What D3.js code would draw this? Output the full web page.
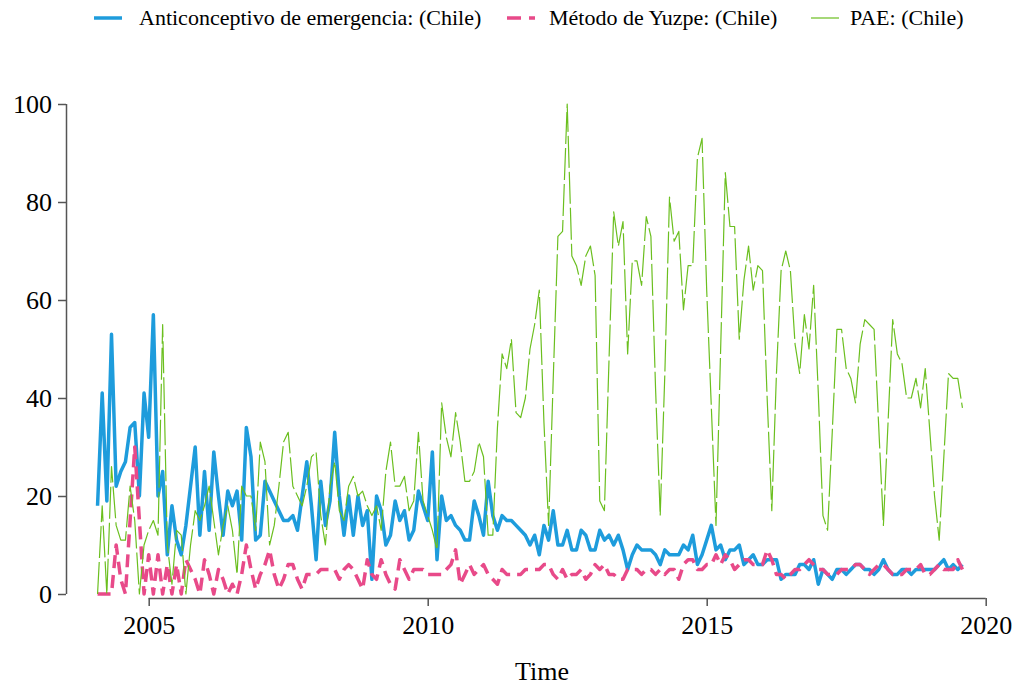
<!DOCTYPE html>
<html><head><meta charset="utf-8">
<script src="https://cdn.jsdelivr.net/npm/d3@7"></script>
<style>body{margin:0;background:#fff}svg{display:block}text{font-family:"Liberation Serif","Times New Roman",serif;fill:#000}</style>
</head><body><svg id="c" width="1018" height="685"></svg>
<script>
// Monthly series, first month = Feb 2004
const startYear = 2004, startMonth = 2;
const seriesNames = ["Anticonceptivo de emergencia: (Chile)", "Método de Yuzpe: (Chile)", "PAE: (Chile)"];
const anticonceptivo = [18,41,19,53,22,25,27,34,35,20,41,32,57,20,25,8,18,11,8,14,22,30,12,25,13,29,20,12,21,18,
21,11,34,28,11,12,23,21,19,17,15,15,16,13,20,27,18,7,23,14,19,33,20,12,20,12,20,14,17,3,
20,17,10,12,19,15,17,11,13,21,18,15,29,7,20,15,16,14,13,11,11,19,16,12,23,16,13,16,15,15,14,13,12,
10,12,8,14,11,17,10,10,13,9,9,13,12,9,9,13,11,12,10,12,9,5,8,10,9,9,9,8,6,9,8,
8,8,10,9,12,6,8,11,14,9,10,7,9,9,10,6,7,8,6,6,7,7,7,3,4,4,4,6,6,5,7,
2,5,4,3,5,5,4,5,6,6,5,5,4,5,7,5,4,4,5,5,4,5,5,5,5,5,6,7,5,6,5,6];
const yuzpe = [0,0,0,0,10,3,0,15,30,15,0,8,0,8,0,6,0,6,0,7,5,3,0,7,4,0,5,3,0,2,
0,4,10,5,1,4,6,9,4,1,3,6,6,3,1,4,4,4,5,5,5,5,3,5,6,5,3,1,7,4,
3,7,4,2,1,7,5,3,5,5,5,4,4,4,4,5,6,9,2,4,6,4,5,6,4,3,2,5,4,4,4,4,5,
5,5,5,6,6,4,3,5,3,4,4,5,3,4,6,5,6,4,4,3,3,5,5,5,4,5,5,4,5,4,5,
5,3,6,7,7,5,5,6,6,8,6,8,7,5,6,7,7,6,6,6,9,7,4,4,3,4,5,5,6,7,6,
5,5,4,4,4,5,5,5,6,6,5,4,5,6,6,5,4,4,4,5,5,5,6,4,4,5,6,5,5,5,7,5];
const pae = [0,18,0,26,14,11,11,22,15,0,10,13,15,12,55,10,2,13,12,0,10,17,15,18,22,15,8,14,18,13,
4,22,20,20,13,31,27,10,14,22,31,33,22,20,18,22,28,29,16,10,22,27,17,15,22,24,20,21,18,16,
18,13,25,31,22,22,24,17,19,33,19,16,13,9,39,32,28,37,31,23,23,25,31,28,12,12,34,49,46,52,37,36,40,
50,55,62,35,14,44,73,74,100,69,67,63,69,71,65,19,17,48,78,71,76,49,68,68,63,77,73,42,16,45,81,
72,74,58,67,67,89,93,62,38,14,50,86,75,75,52,64,71,62,67,66,40,17,45,66,70,66,51,45,57,50,63,
41,16,13,33,54,54,46,44,39,51,56,55,54,34,14,35,56,49,47,40,40,44,38,46,33,20,11,28,45,44,44,38];
const xTicks = [2005, 2010, 2015, 2020];
const yTicks = [0, 20, 40, 60, 80, 100];
const colors = ["#1E9CDC", "#E84A89", "#6BBF1F"];

const svg = d3.select("#c");
const x = d3.scaleLinear().domain([2004, 2020]).range([92.9, 985.7]);
const y = d3.scaleLinear().domain([0, 100]).range([594, 104]);
const t = i => startYear + (startMonth - 1 + i) / 12;

const axisCol = "#555";
// x axis
const gx = svg.append("g").attr("transform", "translate(0,598)")
  .call(d3.axisBottom(x).tickValues(xTicks).tickFormat(d3.format("d")).tickSize(8).tickPadding(10));
gx.select(".domain").attr("d", `M${x(2005)},0.5V0.5H${x(2020)}`);
// y axis
const gy = svg.append("g").attr("transform", "translate(66,0)")
  .call(d3.axisLeft(y).tickValues(yTicks).tickSize(8).tickPadding(6));
gy.select(".domain").attr("d", `M0.5,${y(0)}H0.5V${y(100)}`);
svg.selectAll(".domain, .tick line").attr("stroke", axisCol).attr("stroke-width", 1.5);
svg.selectAll(".tick text").style("font-size", "26px").style("font-family", '"Liberation Serif",serif').attr("fill", "#000");

svg.append("text").attr("x", 542).attr("y", 680).attr("text-anchor", "middle").style("font-size", "26px").text("Time");

const line = d3.line().x((d, i) => x(t(i))).y(d => y(d));
const styles = [
  {w: 3.5, dash: null},
  {w: 3.5, dash: "13,7"},
  {w: 1.2, dash: "32,4"}
];
[anticonceptivo, yuzpe, pae].forEach((s, k) => {
  svg.append("path").datum(s).attr("d", line).attr("fill", "none")
    .attr("stroke", colors[k]).attr("stroke-width", styles[k].w)
    .attr("stroke-dasharray", styles[k].dash).attr("stroke-linejoin", "round");
});

// legend
const legX = [94, 507, 811], legTx = [139, 549, 850];
seriesNames.forEach((n, k) => {
  svg.append("line").attr("x1", legX[k]).attr("x2", legX[k] + 28).attr("y1", 18).attr("y2", 18)
    .attr("stroke", colors[k]).attr("stroke-width", k === 2 ? 1.2 : 3.5)
    .attr("stroke-dasharray", k === 1 ? "14,8" : null);
  svg.append("text").attr("x", legTx[k]).attr("y", 25).style("font-size", "22px").text(n);
});
</script></body></html>
